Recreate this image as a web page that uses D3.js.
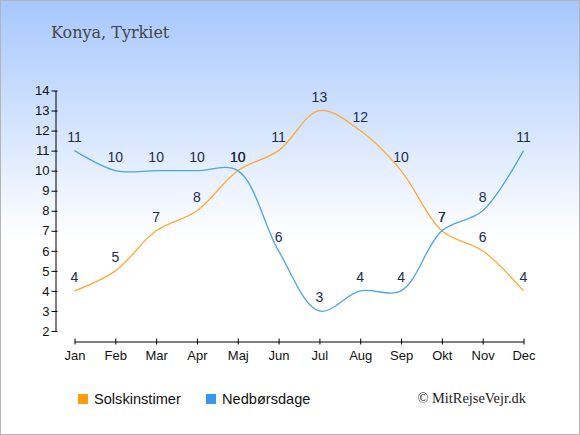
<!DOCTYPE html>
<html>
<head>
<meta charset="utf-8">
<script src="https://cdn.jsdelivr.net/npm/d3@7"></script>
<style>
  body { margin: 0; }
  svg { display: block; }
</style>
</head>
<body>
<svg></svg>
<script>
const months = ['Jan', 'Feb', 'Mar', 'Apr', 'Maj', 'Jun', 'Jul', 'Aug', 'Sep', 'Okt', 'Nov', 'Dec']
const sunHours = [4, 5, 7, 8, 10, 11, 13, 12, 10, 7, 6, 4]
const rainDays = [11, 10, 10, 10, 10, 6, 3, 4, 4, 7, 8, 11]
const yTicks = [2, 3, 4, 5, 6, 7, 8, 9, 10, 11, 12, 13, 14]

let width = 580
let height = 435

let svg = d3.select('svg')
  .attr('width', width)
  .attr('height', height)

// background gradient
let grad = svg.append('defs')
  .append('linearGradient')
    .attr('id', 'bg')
    .attr('x1', 0).attr('y1', 0)
    .attr('x2', 0).attr('y2', 1)
grad.append('stop').attr('offset', '0%').attr('stop-color', '#a6c7fd')
grad.append('stop').attr('offset', '55%').attr('stop-color', '#ffffff')
grad.append('stop').attr('offset', '100%').attr('stop-color', '#ffffff')

svg.append('rect')
    .attr('x', 0.5).attr('y', 0.5)
    .attr('width', width - 1).attr('height', height - 1)
    .attr('fill', 'url(#bg)')
    .attr('stroke', '#b4b4b4')

let xScale = d3.scalePoint()
  .domain(months)
  .range([74.5, 523.5])

let yScale = d3.scaleLinear()
  .domain([2, 14])
  .range([331, 90.5])

// y axis
let yAxis = d3.axisLeft(yScale)
  .tickValues(yTicks)
  .tickFormat(d3.format('d'))
  .tickSizeInner(4)
  .tickSizeOuter(0)

let gy = svg.append('g')
  .attr('transform', 'translate(55.5, 0)')
  .call(yAxis)
gy.select('.domain').attr('stroke', '#000')
gy.selectAll('.tick line').attr('x1', -4).attr('x2', 2)
gy.selectAll('.tick text')
  .attr('x', -6)
  .style('font-family', 'Liberation Sans, Arial, sans-serif')
  .style('font-size', '13px')
  .attr('fill', '#111')

// x axis
let xAxis = d3.axisBottom(xScale)
  .tickSizeInner(3)
  .tickSizeOuter(0)

let gx = svg.append('g')
  .attr('transform', 'translate(0, 341.5)')
  .call(xAxis)
gx.selectAll('.tick line').attr('y1', -3).attr('y2', 3)
gx.selectAll('.tick text')
  .attr('y', 9)
  .style('font-family', 'Liberation Sans, Arial, sans-serif')
  .style('font-size', '13px')
  .attr('fill', '#111')

let series = [
  { name: 'Solskinstimer', values: sunHours, line: '#ffab33', key: '#ff9d0a' },
  { name: 'Nedbørsdage', values: rainDays, line: '#4ca3ee', key: '#3698ea' }
]

let line = d3.line()
  .x((d, i) => xScale(months[i]))
  .y(d => yScale(d))
  .curve(d3.curveCatmullRom.alpha(0.5))

series.forEach(s => {
  svg.append('path')
    .datum(s.values)
    .attr('d', line)
    .attr('fill', 'none')
    .attr('stroke', s.line)
    .attr('stroke-width', 1.3)
})

// value labels
series.forEach(s => {
  svg.append('g')
    .selectAll('text')
    .data(s.values)
    .enter()
    .append('text')
      .attr('x', (d, i) => xScale(months[i]))
      .attr('y', d => yScale(d) - 9)
      .style('text-anchor', 'middle')
      .style('font-family', 'Liberation Sans, Arial, sans-serif')
      .style('font-size', '14px')
      .attr('fill', '#1d2b4d')
      .text(d => d)
})

// title
svg.append('text')
    .attr('x', 51)
    .attr('y', 38)
    .style('font-family', 'DejaVu Serif, serif')
    .style('font-size', '16px')
    .attr('fill', '#444')
    .text('Konya, Tyrkiet')

// legend
let legendX = [78, 206]
series.forEach((s, i) => {
  svg.append('rect')
    .attr('x', legendX[i])
    .attr('y', 394)
    .attr('width', 10)
    .attr('height', 10)
    .attr('fill', s.key)
  svg.append('text')
    .attr('x', legendX[i] + 16)
    .attr('y', 404)
    .style('font-family', 'Liberation Sans, Arial, sans-serif')
    .style('font-size', '14.6px')
    .attr('fill', '#111')
    .text(s.name)
})

svg.append('text')
    .attr('x', 526)
    .attr('y', 403)
    .style('text-anchor', 'end')
    .style('font-family', 'Liberation Serif, Times New Roman, serif')
    .style('font-size', '14.4px')
    .attr('fill', '#222')
    .text('© MitRejseVejr.dk')
</script>
</body>
</html>
